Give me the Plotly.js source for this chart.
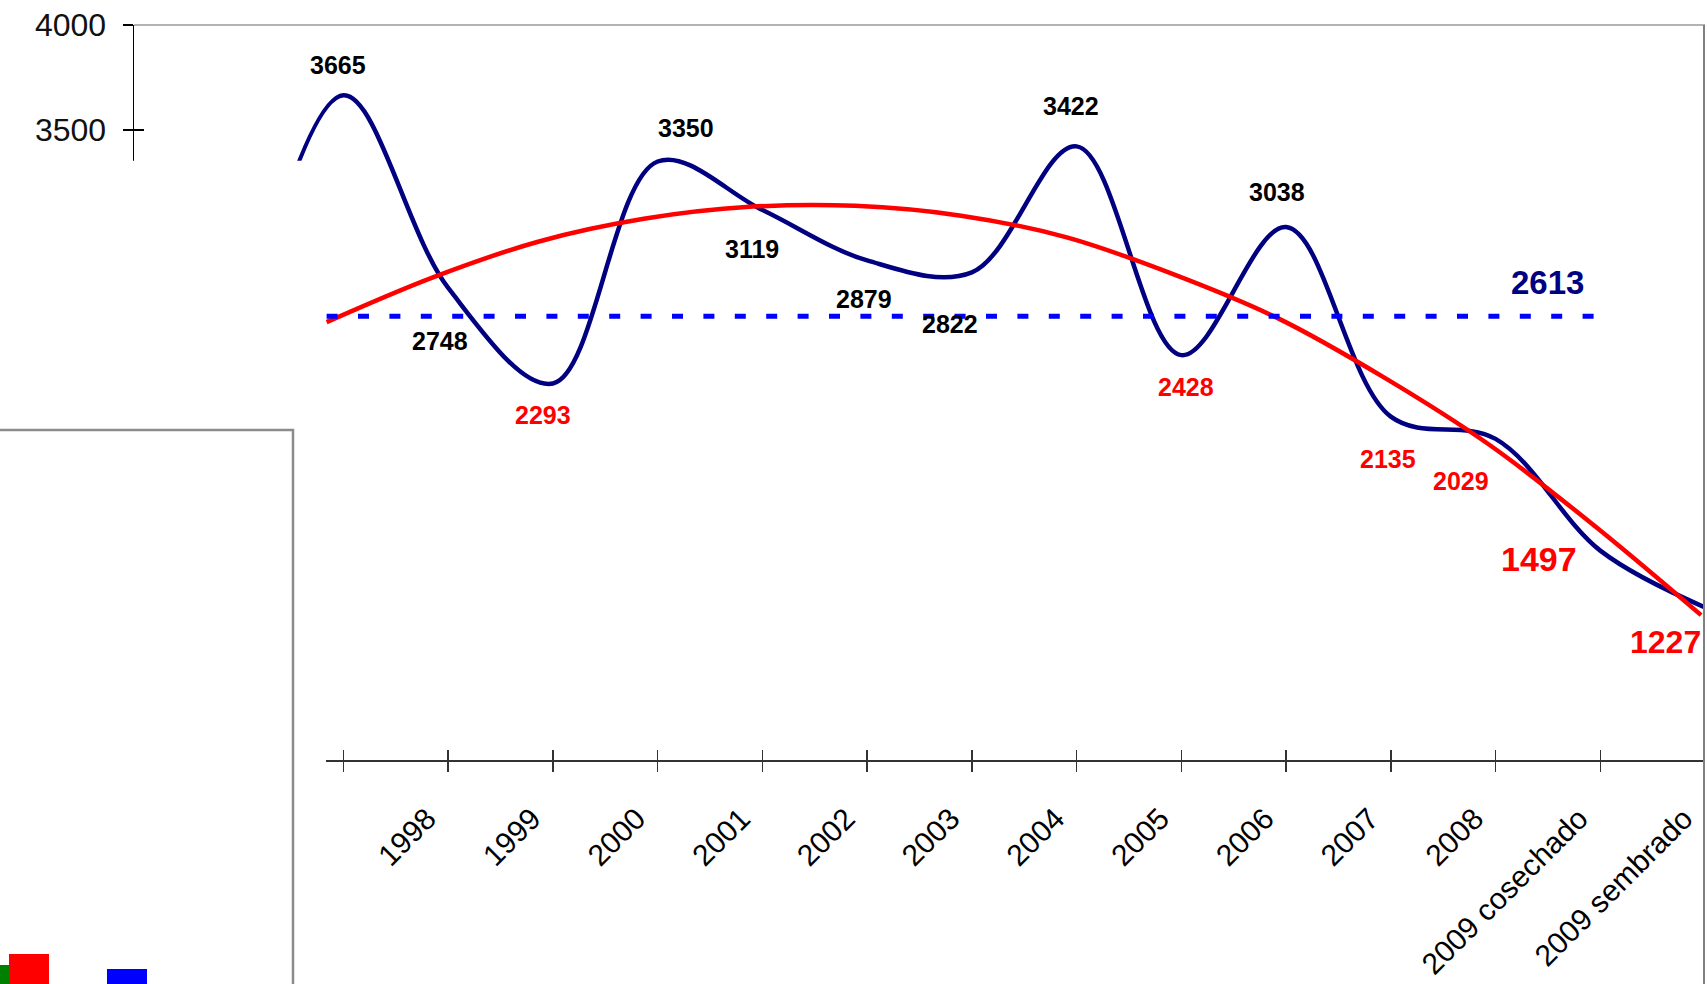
<!DOCTYPE html>
<html>
<head>
<meta charset="utf-8">
<script src="https://cdn.plot.ly/plotly-3.0.1.min.js"></script>
<style>
html,body{margin:0;padding:0;background:#ffffff;}
#chart{width:1707px;height:984px;}
</style>
</head>
<body>
<div id="chart"></div>
<script>
// ---- data ----
// the first category is hidden behind the white panel on the left; its value is estimated from the visible curve
const years = ['1996','1997','1998','1999','2000','2001','2002','2003','2004','2005','2006','2007','2008','2009 cosechado','2009 sembrado'];
const produccion = [2400, 3665, 2748, 2293, 3350, 3119, 2879, 2822, 3422, 2428, 3038, 2135, 2029, 1497, 1227];
const tendencia = [2585, 2797, 2968, 3077, 3134, 3139, 3092, 2989, 2815, 2603, 2322, 2000, 1612, 1190];
const promedio = 2613;
const promedioPuntos = 13;
const yTickValues = [3500, 4000];
const yTickLabels = ['3500', '4000'];

// ---- styling ----
const FONT = 'Liberation Sans, Arial, sans-serif';
const NAVY = '#000080';
const RED = '#ff0000';
// per-label placement (pixels, right / down) and look, for labels of produccion[1..]
const labelDx = [null, -5, -8, -10, 28, -10, -3, -22, -6, 5, -9, -3, -35, -61, -40];
const labelDy = [null, -30, 53, 32, -34, 39, 39, 52, -40, 32, -35, 42, 42, 8, 35];
const labelColor = [null, '#000', '#000', RED, '#000', '#000', '#000', '#000', '#000', RED, '#000', RED, RED, RED, RED];
const labelSize = [null, 25, 25, 25, 25, 25, 25, 25, 25, 25, 25, 25, 25, 34, 32];

const L = 134, R = 2, T = 25, B = 224, W = 1707, H = 984;
const plotW = W - L - R, plotH = H - T - B;
const pxX = p => (p - L) / plotW;
const pxY = p => (H - B - p) / plotH;

const idx = years.map((_, j) => j);
const tickPos = idx.slice(1, 14);
const labelIdx = idx.slice(2);
const labelShift = 0.2;

// helper (draws nothing) so that the overlay axes get rendered
const carrier = (xa, ya) => ({
  x: tickPos, y: tickPos.map(() => null), xaxis: xa, yaxis: ya,
  type: 'scatter', mode: 'none', hoverinfo: 'skip', showlegend: false
});

const traces = [
  {
    x: idx, y: produccion, xaxis: 'x', yaxis: 'y',
    type: 'scatter', mode: 'lines',
    line: {color: NAVY, width: 4.5, shape: 'spline', smoothing: 1.0},
    hoverinfo: 'skip', showlegend: false
  },
  {
    x: tendencia.map((_, k) => k), y: tendencia, xaxis: 'x3', yaxis: 'y',
    type: 'scatter', mode: 'lines',
    line: {color: RED, width: 4.5, shape: 'spline', smoothing: 1.0},
    hoverinfo: 'skip', showlegend: false
  },
  {
    x: Array.from({length: promedioPuntos}, (_, k) => k),
    y: Array.from({length: promedioPuntos}, () => promedio),
    xaxis: 'x3', yaxis: 'y',
    type: 'scatter', mode: 'lines',
    line: {color: '#0000ff', width: 5, dash: '11px,20.4px'},
    hoverinfo: 'skip', showlegend: false
  },
  carrier('x2', 'y'),
  carrier('x4', 'y'),
  carrier('x', 'y2')
];

const annotations = [];
for (let j = 1; j < produccion.length; j++) {
  annotations.push({
    xref: 'x', yref: 'y', x: j, y: produccion[j],
    text: String(produccion[j]), showarrow: false,
    xanchor: 'center', yanchor: 'middle',
    xshift: labelDx[j], yshift: -labelDy[j],
    font: {family: FONT, size: labelSize[j], color: labelColor[j], weight: 'bold'}
  });
}
annotations.push({
  xref: 'x3', yref: 'y', x: promedioPuntos - 1, y: promedio,
  text: String(promedio), showarrow: false,
  xanchor: 'center', yanchor: 'middle', xshift: -48, yshift: 34,
  font: {family: FONT, size: 33, color: NAVY, weight: 'bold'}
});

const shapes = [
  // white panel covering the left part of the chart
  {type: 'rect', xref: 'paper', yref: 'paper', layer: 'above',
   x0: pxX(-20), x1: pxX(326), y0: pxY(1000), y1: pxY(160.7),
   fillcolor: '#ffffff', line: {width: 0}},
  // frame of the (cut) legend box
  {type: 'rect', xref: 'paper', yref: 'paper', layer: 'above',
   x0: pxX(-20), x1: pxX(293), y0: pxY(1010), y1: pxY(430),
   fillcolor: 'rgba(0,0,0,0)', line: {color: '#8c8c8c', width: 2.5}},
  // legend swatches (cut off by the bottom edge)
  {type: 'rect', xref: 'paper', yref: 'paper', layer: 'above',
   x0: pxX(-5), x1: pxX(9), y0: pxY(1000), y1: pxY(965),
   fillcolor: '#008000', line: {width: 0}},
  {type: 'rect', xref: 'paper', yref: 'paper', layer: 'above',
   x0: pxX(9), x1: pxX(49), y0: pxY(1000), y1: pxY(954),
   fillcolor: '#ff0000', line: {width: 0}},
  {type: 'rect', xref: 'paper', yref: 'paper', layer: 'above',
   x0: pxX(107), x1: pxX(147), y0: pxY(1000), y1: pxY(969),
   fillcolor: '#0000ff', line: {width: 0}},
  // top and right border of the plot area
  {type: 'line', xref: 'paper', yref: 'paper', layer: 'above',
   x0: 0, x1: 1, y0: 1, y1: 1, line: {color: '#9a9a9a', width: 1.5}},
  {type: 'line', xref: 'paper', yref: 'paper', layer: 'above',
   x0: pxX(1704), x1: pxX(1704), y0: 1, y1: pxY(1000), line: {color: '#808080', width: 2}}
];

const layout = {
  width: W, height: H,
  margin: {l: L, r: R, t: T, b: B, pad: 0},
  paper_bgcolor: '#ffffff', plot_bgcolor: 'rgba(0,0,0,0)',
  showlegend: false,
  xaxis: {
    range: [-1, 14], tickmode: 'array', tickvals: tickPos, showticklabels: false,
    ticks: 'outside', ticklen: 10, tickwidth: 1.5, tickcolor: '#333',
    showline: true, linecolor: '#333', linewidth: 2,
    showgrid: false, zeroline: false, fixedrange: true
  },
  xaxis2: {
    overlaying: 'x', anchor: 'y', side: 'bottom',
    range: [-1, 14], tickmode: 'array', tickvals: tickPos, showticklabels: false,
    ticks: 'inside', ticklen: 10, tickwidth: 1.5, tickcolor: '#333',
    showline: false, showgrid: false, zeroline: false
  },
  xaxis3: {
    overlaying: 'x', anchor: 'y', side: 'bottom',
    range: [-1.8216, 13.037], visible: false
  },
  xaxis4: {
    overlaying: 'x', anchor: 'y', side: 'bottom',
    range: [-1, 14], tickmode: 'array',
    tickvals: labelIdx.map(j => j - labelShift),
    ticktext: labelIdx.map(j => years[j]),
    ticks: '', tickangle: -45, ticklabelstandoff: 34,
    tickfont: {family: FONT, size: 30, color: '#000'},
    showline: false, showgrid: false, zeroline: false
  },
  yaxis: {
    range: [500, 4000], tickmode: 'array', tickvals: yTickValues, ticktext: yTickLabels,
    ticks: 'outside', ticklen: 10, tickwidth: 1.5, tickcolor: '#000',
    showline: true, linecolor: '#000', linewidth: 1.5,
    showgrid: false, zeroline: false, ticklabelstandoff: 10,
    tickfont: {family: FONT, size: 32, color: '#111'}
  },
  yaxis2: {
    overlaying: 'y', anchor: 'x', side: 'left',
    range: [500, 4000], tickmode: 'array', tickvals: yTickValues, showticklabels: false,
    ticks: 'inside', ticklen: 10, tickwidth: 1.5, tickcolor: '#000',
    showline: false, showgrid: false, zeroline: false
  },
  annotations: annotations,
  shapes: shapes
};

Plotly.newPlot('chart', traces, layout, {staticPlot: true, displayModeBar: false});
</script>
</body>
</html>
